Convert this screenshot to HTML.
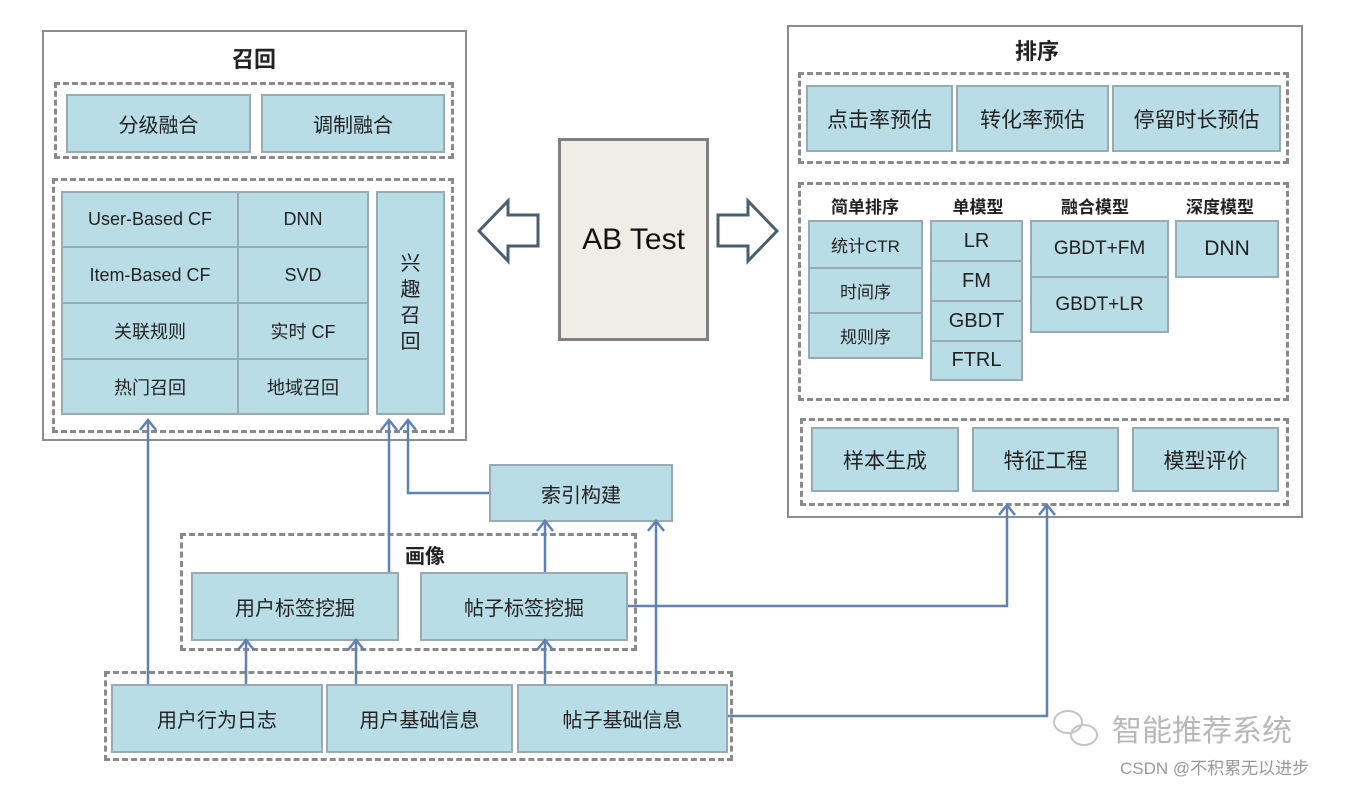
<!DOCTYPE html>
<html><head><meta charset="utf-8"><style>
body{margin:0;width:1348px;height:788px;background:#fff;position:relative;overflow:hidden;font-family:"Liberation Sans","Noto Sans CJK SC",sans-serif;color:#222}
.a{position:absolute;box-sizing:border-box}
.b{position:absolute;box-sizing:border-box;background:#b9dde6;border:2px solid #98aab2;display:flex;align-items:center;justify-content:center;font-size:20px;color:#222}
.o{position:absolute;box-sizing:border-box;border:2px solid #8d8d8d;background:#fff}
.d{position:absolute;box-sizing:border-box;border:3px dashed #8a8a8a}
.t{position:absolute;font-weight:bold;font-size:22px;transform:translateX(-50%);white-space:nowrap}
.h{position:absolute;font-weight:bold;font-size:17px;transform:translateX(-50%);white-space:nowrap}
</style></head><body>
<div class="o" style="left:42px;top:30px;width:425px;height:411px"></div>
<div class="t" style="left:254px;top:42px">召回</div>
<div class="d" style="left:54px;top:82px;width:400px;height:77px"></div>
<div class="b" style="left:66px;top:94px;width:185px;height:59px">分级融合</div>
<div class="b" style="left:261px;top:94px;width:184px;height:59px">调制融合</div>
<div class="d" style="left:52px;top:178px;width:402px;height:255px"></div>
<div class="b" style="left:61px;top:191px;width:178px;height:57px;font-size:18px">User-Based CF</div>
<div class="b" style="left:237px;top:191px;width:132px;height:57px;font-size:18px">DNN</div>
<div class="b" style="left:61px;top:246px;width:178px;height:58px;font-size:18px">Item-Based CF</div>
<div class="b" style="left:237px;top:246px;width:132px;height:58px;font-size:18px">SVD</div>
<div class="b" style="left:61px;top:302px;width:178px;height:58px;font-size:18px">关联规则</div>
<div class="b" style="left:237px;top:302px;width:132px;height:58px;font-size:18px">实时 CF</div>
<div class="b" style="left:61px;top:358px;width:178px;height:57px;font-size:18px">热门召回</div>
<div class="b" style="left:237px;top:358px;width:132px;height:57px;font-size:18px">地域召回</div>
<div class="b" style="left:376px;top:191px;width:69px;height:224px;font-size:20px;line-height:26px;text-align:center">兴<br>趣<br>召<br>回</div>

<div class="a" style="left:558px;top:138px;width:151px;height:203px;background:#efede5;border:3px solid #808080;display:flex;align-items:center;justify-content:center;font-size:30px;color:#111">AB Test</div>

<div class="o" style="left:787px;top:25px;width:516px;height:493px"></div>
<div class="t" style="left:1037px;top:34px">排序</div>
<div class="d" style="left:798px;top:72px;width:491px;height:92px"></div>
<div class="b" style="left:806px;top:85px;width:147px;height:67px;font-size:21px">点击率预估</div>
<div class="b" style="left:956px;top:85px;width:153px;height:67px;font-size:21px">转化率预估</div>
<div class="b" style="left:1112px;top:85px;width:169px;height:67px;font-size:21px">停留时长预估</div>
<div class="d" style="left:798px;top:182px;width:491px;height:219px"></div>
<div class="h" style="left:865px;top:193px">简单排序</div>
<div class="h" style="left:978px;top:193px">单模型</div>
<div class="h" style="left:1095px;top:193px">融合模型</div>
<div class="h" style="left:1220px;top:193px">深度模型</div>
<div class="b" style="left:808px;top:220px;width:115px;height:49px;font-size:17px">统计CTR</div>
<div class="b" style="left:808px;top:267px;width:115px;height:47px;font-size:17px">时间序</div>
<div class="b" style="left:808px;top:312px;width:115px;height:47px;font-size:17px">规则序</div>
<div class="b" style="left:930px;top:220px;width:93px;height:42px">LR</div>
<div class="b" style="left:930px;top:260px;width:93px;height:42px">FM</div>
<div class="b" style="left:930px;top:300px;width:93px;height:42px">GBDT</div>
<div class="b" style="left:930px;top:340px;width:93px;height:41px">FTRL</div>
<div class="b" style="left:1030px;top:220px;width:139px;height:58px;font-size:19px">GBDT+FM</div>
<div class="b" style="left:1030px;top:276px;width:139px;height:57px;font-size:19px">GBDT+LR</div>
<div class="b" style="left:1175px;top:220px;width:104px;height:58px;font-size:21px">DNN</div>
<div class="d" style="left:800px;top:418px;width:489px;height:88px"></div>
<div class="b" style="left:811px;top:427px;width:148px;height:65px;font-size:21px">样本生成</div>
<div class="b" style="left:972px;top:427px;width:147px;height:65px;font-size:21px">特征工程</div>
<div class="b" style="left:1132px;top:427px;width:147px;height:65px;font-size:21px">模型评价</div>

<div class="b" style="left:489px;top:464px;width:184px;height:58px">索引构建</div>
<div class="d" style="left:180px;top:533px;width:457px;height:118px"></div>
<div class="t" style="left:425px;top:540px;font-size:20px">画像</div>
<div class="b" style="left:191px;top:572px;width:208px;height:69px">用户标签挖掘</div>
<div class="b" style="left:420px;top:572px;width:208px;height:69px">帖子标签挖掘</div>
<div class="d" style="left:104px;top:671px;width:629px;height:90px"></div>
<div class="b" style="left:111px;top:684px;width:212px;height:69px">用户行为日志</div>
<div class="b" style="left:326px;top:684px;width:187px;height:69px">用户基础信息</div>
<div class="b" style="left:517px;top:684px;width:211px;height:69px">帖子基础信息</div>

<svg class="a" style="left:0;top:0" width="1348" height="788">
<g fill="none" stroke="#5f82b3" stroke-width="2.5">
<path d="M148 684V420M389 572V420M489 493H408V420M545 572V521M656 684V521M246 684V640M356 684V640M545 684V640M628 606H1007V505M728 716H1047V505"/>
<path d="M140 430l8-10 8 10M381 430l8-10 8 10M400 430l8-10 8 10M537 531l8-10 8 10M648 531l8-10 8 10M238 650l8-10 8 10M348 650l8-10 8 10M537 650l8-10 8 10M999 515l8-10 8 10M1039 515l8-10 8 10"/>
</g>
<g fill="#fff" stroke="#4a5e72" stroke-width="3">
<path d="M479 231L508 201V215H538V246H508V261Z"/>
<path d="M777 231L748 201V215H718V246H748V261Z"/>
</g>
<text x="1112" y="741" font-size="30" fill="#b8b8b8" font-family="Liberation Sans,Noto Sans CJK SC,sans-serif">智能推荐系统</text>
<text x="1120" y="774" font-size="17" fill="#999" font-family="Liberation Sans,Noto Sans CJK SC,sans-serif">CSDN @不积累无以进步</text>
<g fill="none" stroke="#c4c4c4" stroke-width="2"><ellipse cx="1068" cy="722" rx="14" ry="11"/><ellipse cx="1084" cy="735" rx="13" ry="10"/></g>
</svg>
</body></html>
